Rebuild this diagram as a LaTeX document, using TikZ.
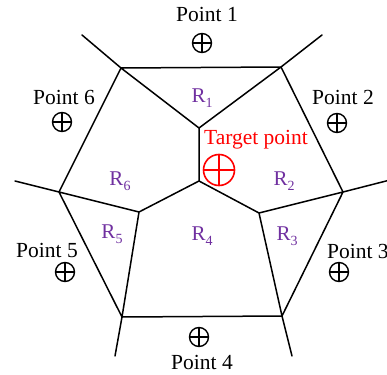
\documentclass[tikz,border=0pt]{standalone}
\usepackage{fontspec}
\setmainfont{Liberation Serif}
\definecolor{rpurple}{RGB}{112,48,160}
\definecolor{tred}{RGB}{255,0,0}
\newcommand{\Rlab}[1]{R{\fontsize{14}{14}\selectfont\raisebox{-5pt}{#1}}}
\tikzset{
  edge/.style={line width=1.5pt, line cap=round, line join=round},
  lbl/.style={inner sep=0pt, font=\fontsize{21.5}{25}\selectfont},
  rlbl/.style={inner sep=0pt, text=rpurple, font=\fontsize{21}{25}\selectfont},
  pt/.style={circle, draw, line width=1.4pt, minimum size=19pt, inner sep=0pt,
    path picture={\draw[line width=1.4pt] (path picture bounding box.north) -- (path picture bounding box.south)
      (path picture bounding box.west) -- (path picture bounding box.east);}},
  tpt/.style={circle, draw=tred, line width=1.6pt, minimum size=31pt, inner sep=0pt,
    path picture={\draw[tred, line width=1.6pt] (path picture bounding box.north) -- (path picture bounding box.south)
      (path picture bounding box.west) -- (path picture bounding box.east);}}
}
\begin{document}
\begin{tikzpicture}[x=1pt,y=-1pt]
\useasboundingbox (0,0) rectangle (387,374);
% vertices
\coordinate (A) at (121,68);
\coordinate (B) at (281,67);
\coordinate (C) at (199,128);
\coordinate (D) at (199,181);
\coordinate (E) at (59,192);
\coordinate (F) at (343,192);
\coordinate (G) at (139,212);
\coordinate (H) at (259,213);
\coordinate (I) at (122,317);
\coordinate (J) at (282,316);
% spur ends
\coordinate (sA) at (82,35);
\coordinate (sB) at (322,35);
\coordinate (sE) at (15,181);
\coordinate (sF) at (390,180);
\coordinate (sI) at (115,356);
\coordinate (sJ) at (292,356);
% edges
\draw[edge] (A) -- (B) (A) -- (C) (B) -- (C) (C) -- (D)
  (A) -- (E) (B) -- (F) (D) -- (G) (D) -- (H)
  (E) -- (G) (F) -- (H) (E) -- (I) (F) -- (J)
  (G) -- (I) (H) -- (J) (I) -- (J);
\draw[edge] (A) -- (sA) (B) -- (sB) (E) -- (sE) (F) -- (sF) (I) -- (sI) (J) -- (sJ);
% points
\node[pt] (p1) at (202,43) {};
\node[pt] (p2) at (337,123) {};
\node[pt] (p3) at (339,272) {};
\node[pt] (p4) at (199,337) {};
\node[pt] (p5) at (65,272) {};
\node[pt] (p6) at (62,122) {};
\node[tpt] (tp) at (219,170) {};
% point labels
\node[lbl] (l1) at (207,14) {Point 1};
\node[lbl] (l2) at (343,97) {Point 2};
\node[lbl, anchor=west] (l3) at (327,251) {Point 3};
\node[lbl] (l4) at (202,362) {Point 4};
\node[lbl] (l5) at (47,250) {Point 5};
\node[lbl] (l6) at (64,97) {Point 6};
\node[lbl, text=tred] (lt) at (256,140) {Target point};
% region labels
\node[rlbl] (r1) at (202,98) {\Rlab{1}};
\node[rlbl] (r2) at (284,181) {\Rlab{2}};
\node[rlbl] (r3) at (287,236) {\Rlab{3}};
\node[rlbl] (r4) at (202,236) {\Rlab{4}};
\node[rlbl] (r5) at (112,234) {\Rlab{5}};
\node[rlbl] (r6) at (120,181) {\Rlab{6}};
\end{tikzpicture}
\end{document}
